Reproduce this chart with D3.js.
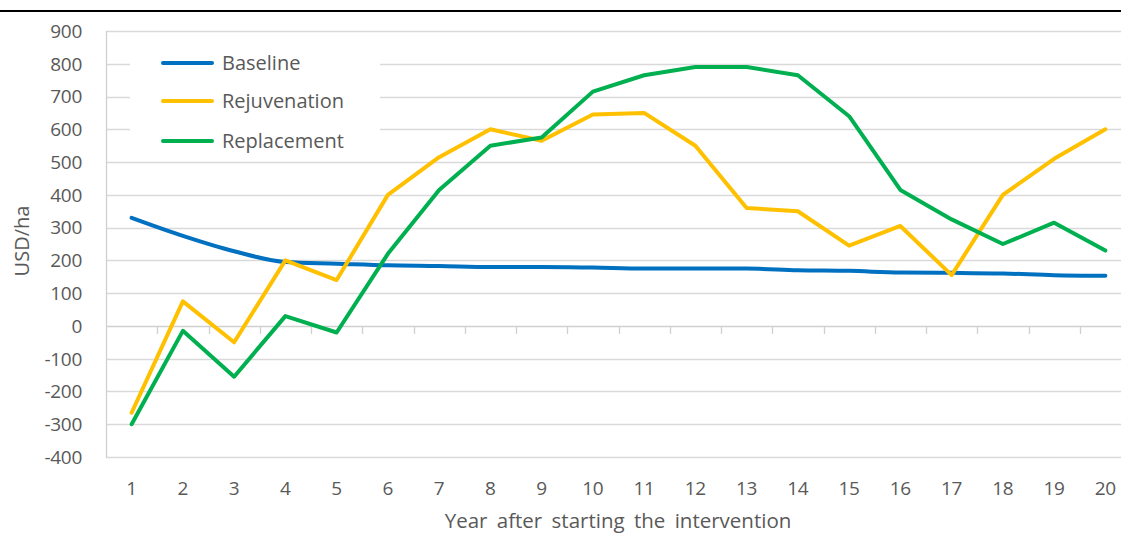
<!DOCTYPE html>
<html><head><meta charset="utf-8">
<script src="https://cdn.jsdelivr.net/npm/d3@7"></script>
<style>
body{margin:0;background:#fff;}
svg{display:block;}
text{font-family:"Open Sans",sans-serif;fill:#595959;}
</style></head>
<body><svg id="c" width="1121" height="537"></svg>
<script>
const years = [1,2,3,4,5,6,7,8,9,10,11,12,13,14,15,16,17,18,19,20];
const baseline = [330,275,228,195,190,185,183,180,180,178,175,175,175,170,168,163,162,160,155,153];
const rejuvenation = [-265,75,-50,200,140,400,515,600,565,645,650,550,360,350,245,305,155,400,510,600];
const replacement = [-300,-15,-155,30,-20,220,415,550,575,715,765,790,790,765,640,415,325,250,315,230];
const yTicks = [-400,-300,-200,-100,0,100,200,300,400,500,600,700,800,900];
const seriesNames = ["Baseline","Rejuvenation","Replacement"];
const colors = ["#0070C0","#FFC000","#00B050"];

const svg = d3.select("#c");
const L=106, R=1131, T=31, B=457;
const x = d3.scalePoint().domain(years).range([L,R]).padding(0.5);
const y = d3.scaleLinear().domain([-400,900]).range([B,T]);
const step = x.step();

// top black rule
svg.append("line").attr("x1",0).attr("x2",1121).attr("y1",11).attr("y2",11)
  .attr("stroke","#000").attr("stroke-width",2);

// gridlines
svg.append("g").selectAll("line").data(yTicks).join("line")
  .attr("x1",L).attr("x2",1121)
  .attr("y1",d=>Math.round(y(d))+0.5).attr("y2",d=>Math.round(y(d))+0.5)
  .attr("stroke",d=>d===0?"#d0d0d0":"#d9d9d9").attr("stroke-width",1.3);

// left axis line
svg.append("line").attr("x1",L+0.5).attr("x2",L+0.5).attr("y1",T).attr("y2",B+0.5)
  .attr("stroke","#d0d0d0").attr("stroke-width",1.3);

// tick marks on zero line
const bounds = d3.range(1,years.length+1).map(i=>L+i*step);
svg.append("g").selectAll("line").data(bounds).join("line")
  .attr("x1",d=>Math.round(d)+0.5).attr("x2",d=>Math.round(d)+0.5)
  .attr("y1",Math.round(y(0))).attr("y2",Math.round(y(0))+8)
  .attr("stroke","#d0d0d0").attr("stroke-width",1.3);

// y labels
svg.append("g").selectAll("text").data(yTicks).join("text")
  .attr("x",82).attr("y",d=>y(d)).attr("dy","0.36em").attr("text-anchor","end")
  .attr("font-size",19).attr("letter-spacing",-0.3).text(d=>d);

// x labels
svg.append("g").selectAll("text").data(years).join("text")
  .attr("x",d=>x(d)).attr("y",488).attr("dy","0.36em").attr("text-anchor","middle")
  .attr("font-size",19).attr("letter-spacing",-0.3).text(d=>d);

// axis titles
svg.append("text").attr("transform","translate(22,"+((T+B)/2-3)+") rotate(-90)")
  .attr("text-anchor","middle").attr("dy","0.36em").attr("font-size",20).text("USD/ha");
svg.append("text").attr("x",618).attr("y",521).attr("dy","0.36em").attr("text-anchor","middle")
  .attr("font-size",20.5).attr("word-spacing",4).text("Year after starting the intervention");

// lines
const data = [baseline, rejuvenation, replacement];
const curves = [d3.curveMonotoneX, d3.curveLinear, d3.curveLinear];
data.forEach((vals,i)=>{
  const line = d3.line().x((d,j)=>x(years[j])).y(d=>y(d)).curve(curves[i]);
  svg.append("path").datum(vals).attr("d",line).attr("fill","none")
    .attr("stroke",colors[i]).attr("stroke-width",4).attr("stroke-linejoin","round").attr("stroke-linecap","round");
});

// legend
const lg = svg.append("g");
lg.append("rect").attr("x",130).attr("y",40).attr("width",250).attr("height",115).attr("fill","#fff");
seriesNames.forEach((n,i)=>{
  const yy = [63,101,141][i];
  lg.append("line").attr("x1",163).attr("x2",212).attr("y1",yy).attr("y2",yy)
    .attr("stroke",colors[i]).attr("stroke-width",4).attr("stroke-linecap","round");
  lg.append("text").attr("x",222).attr("y",yy).attr("dy","0.36em").attr("font-size",20).text(n);
});
</script></body></html>
